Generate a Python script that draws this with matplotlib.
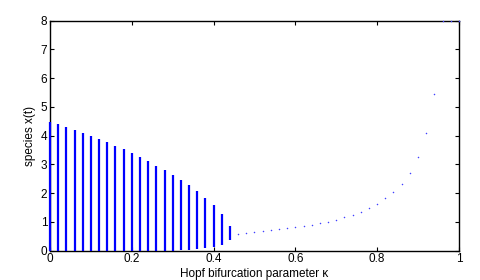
import matplotlib
matplotlib.use("Agg")
import matplotlib.pyplot as plt
import numpy as np

plt.rcParams['font.family'] = ['Liberation Sans', 'DejaVu Sans']

# oscillation ranges (min, max) for kappa below Hopf point
kappa_osc = [0.00, 0.02, 0.04, 0.06, 0.08, 0.10, 0.12, 0.14, 0.16, 0.18, 0.20, 0.22,
             0.24, 0.26, 0.28, 0.30, 0.32, 0.34, 0.36, 0.38, 0.40, 0.42, 0.44]
osc_max = [4.49, 4.41, 4.31, 4.20, 4.09, 3.99, 3.87, 3.77, 3.64, 3.53, 3.39, 3.25,
           3.11, 2.96, 2.81, 2.63, 2.46, 2.27, 2.08, 1.83, 1.59, 1.28, 0.86]
osc_min = [0.0, 0.0, 0.0, 0.0, 0.0, 0.0, 0.0, 0.0, 0.0, 0.0, 0.0, 0.0,
           0.0, 0.0, 0.0, 0.0, 0.01, 0.03, 0.05, 0.08, 0.12, 0.20, 0.37]

# stable equilibrium values above Hopf point
kappa_eq = [0.46, 0.48, 0.50, 0.52, 0.54, 0.56, 0.58, 0.60, 0.62, 0.64, 0.66, 0.68,
            0.70, 0.72, 0.74, 0.76, 0.78, 0.80, 0.82, 0.84, 0.86, 0.88, 0.90, 0.92, 0.94,
            0.96, 0.98, 1.00]
eq_val = [0.59, 0.62, 0.64, 0.67, 0.71, 0.74, 0.78, 0.81, 0.85, 0.89, 0.95, 1.01,
          1.08, 1.16, 1.25, 1.36, 1.49, 1.64, 1.82, 2.03, 2.33, 2.71, 3.25, 4.09, 5.46,
          8.0, 8.0, 8.0]

xticks = [0, 0.2, 0.4, 0.6, 0.8, 1]
xticklabels = ['0', '0.2', '0.4', '0.6', '0.8', '1']
yticks = [0, 1, 2, 3, 4, 5, 6, 7, 8]

fig = plt.figure(figsize=(4.81, 2.80), dpi=100)
ax = fig.add_axes([0.104, 0.1046, 0.850, 0.8214])

ax.vlines(kappa_osc, osc_min, osc_max, colors='#0000ff', linewidth=1.6,
          clip_on=False, zorder=3)
ax.plot(kappa_eq, eq_val, linestyle='none', marker='.', markersize=2.2,
        color='#4040ff', clip_on=False, markeredgewidth=0, zorder=4)

ax.set_xlim(0, 1)
ax.set_ylim(0, 8)
ax.set_xticks(xticks)
ax.set_xticklabels(xticklabels)
ax.set_yticks(yticks)
ax.tick_params(direction='in', length=3, width=0.8, top=True, right=True,
               labelsize=8.5, pad=2, colors='black')
for s in ax.spines.values():
    s.set_linewidth(1.0)
    s.set_color('black')
    s.set_zorder(2.5)

ax.set_xlabel('Hopf bifurcation parameter \u03ba', fontsize=8.5, labelpad=1.5)
ax.set_ylabel('species x(t)', fontsize=8.5, labelpad=3)

fig.savefig('out.png', dpi=100)
